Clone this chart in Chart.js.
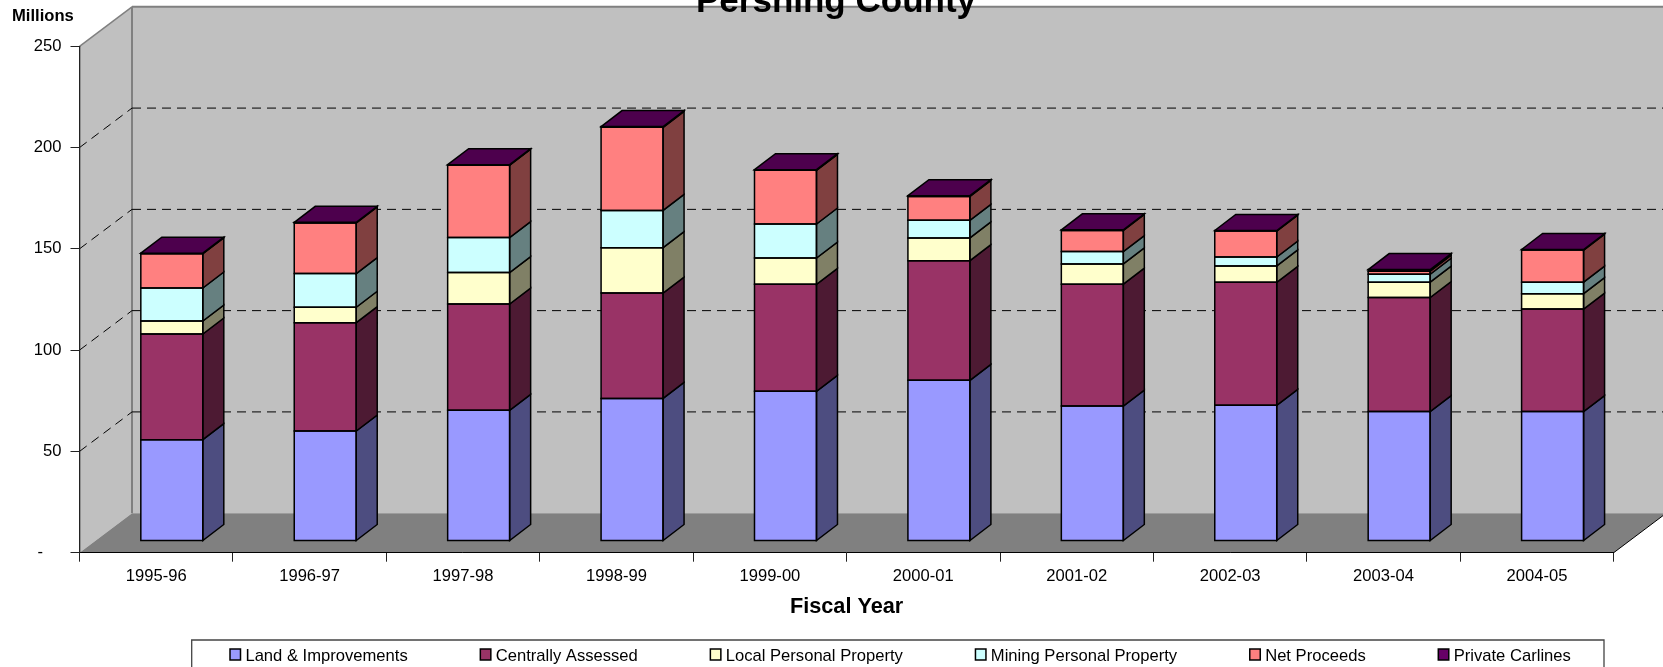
<!DOCTYPE html>
<html>
<head>
<meta charset="utf-8">
<title>Pershing County</title>
<script src="https://cdn.jsdelivr.net/npm/chart.js@4"></script>
<style>
  body { margin: 0; background: #fff; overflow: hidden; }
  canvas { display: block; }
</style>
</head>
<body>
<canvas id="chart" width="1663" height="667"></canvas>
<script>
const categories = ["1995-96", "1996-97", "1997-98", "1998-99", "1999-00", "2000-01", "2001-02", "2002-03", "2003-04", "2004-05"];

// values in millions
const land = [50.0, 54.3, 64.5, 70.4, 73.9, 79.3, 66.6, 67.0, 63.9, 63.9];
const centrallyAssessed = [52.2, 53.5, 52.5, 52.0, 52.8, 59.1, 60.2, 60.7, 56.3, 50.6];
const localPersonal = [6.4, 7.6, 15.5, 22.4, 13.0, 11.2, 10.0, 8.1, 7.6, 7.6];
const miningPersonal = [16.3, 16.6, 17.3, 18.4, 16.8, 8.7, 6.1, 4.4, 3.9, 5.7];
const netProceeds = [16.9, 25.0, 35.7, 41.0, 26.5, 11.8, 10.4, 12.8, 1.5, 15.8];
const privateCarlines = [0.3, 0.3, 0.3, 0.4, 0.3, 0.4, 0.3, 0.3, 0.8, 0.3];

const seriesNames = ["Land & Improvements", "Centrally Assessed", "Local Personal Property", "Mining Personal Property", "Net Proceeds", "Private Carlines"];
const seriesValues = [land, centrallyAssessed, localPersonal, miningPersonal, netProceeds, privateCarlines];
const frontColors = ["#9999ff", "#993366", "#ffffcc", "#ccffff", "#ff8080", "#660066"];
const sideColors = ["#4d4d80", "#4d1a33", "#808066", "#668080", "#804040", "#330033"];
const topColor = "#4d004d";

const FONT = "'Liberation Sans', Arial, sans-serif";
Chart.defaults.font.family = FONT;
Chart.defaults.color = "#000";

// 3d box geometry
const wallDx = 52.5, wallDy = 39.5;   // front plane to back wall
const barDx = 15.6, barDy = 11.7;     // front plane to bar front
const depthDx = 21, depthDy = 16;     // bar depth

function poly(ctx, pts, fill, stroke, width) {
  ctx.beginPath();
  pts.forEach((p, i) => (i ? ctx.lineTo(p[0], p[1]) : ctx.moveTo(p[0], p[1])));
  ctx.closePath();
  if (fill) { ctx.fillStyle = fill; ctx.fill(); }
  if (stroke) { ctx.strokeStyle = stroke; ctx.lineWidth = width; ctx.stroke(); }
}

function line(ctx, x1, y1, x2, y2, color, width, dash) {
  ctx.beginPath();
  ctx.setLineDash(dash || []);
  ctx.moveTo(x1, y1);
  ctx.lineTo(x2, y2);
  ctx.strokeStyle = color;
  ctx.lineWidth = width;
  ctx.stroke();
  ctx.setLineDash([]);
}

const box3d = {
  id: "box3d",
  // walls, floor and the dashed gridlines
  beforeDraw(chart) {
    const ctx = chart.ctx, a = chart.chartArea, y = chart.scales.y;
    const l = a.left, r = a.right, t = a.top, b = a.bottom;
    ctx.save();
    poly(ctx, [[l + wallDx, t - wallDy], [r + wallDx, t - wallDy], [r + wallDx, b - wallDy], [l + wallDx, b - wallDy]], "#c0c0c0");
    poly(ctx, [[l, t], [l + wallDx, t - wallDy], [l + wallDx, b - wallDy], [l, b]], "#c0c0c0");
    poly(ctx, [[l, b], [l + wallDx, b - wallDy], [r + wallDx, b - wallDy], [r, b]], "#808080");
    line(ctx, l + wallDx, t - wallDy, l + wallDx, b - wallDy, "#808080", 2);
    line(ctx, l + wallDx, t - wallDy, r + wallDx, t - wallDy, "#808080", 2);
    line(ctx, l, t, l + wallDx, t - wallDy, "#808080", 1.5);
    line(ctx, r, b, r + wallDx, b - wallDy, "#000", 1);
    y.ticks.forEach((tick) => {
      if (tick.value === 0 || tick.value === y.max) return;
      const py = y.getPixelForValue(tick.value);
      line(ctx, l, py, l + wallDx, py - wallDy, "#000", 1, [9, 6]);
      line(ctx, l + wallDx, py - wallDy, r + wallDx, py - wallDy, "#000", 1, [9, 6]);
    });
    ctx.restore();
  },
  // native bars are pushed back into the depth of the box
  beforeDatasetsDraw(chart) {
    chart.ctx.save();
    chart.ctx.translate(barDx, -barDy);
  },
  afterDatasetsDraw(chart) {
    const ctx = chart.ctx;
    ctx.restore();
    ctx.save();
    ctx.lineJoin = "miter";
    const last = chart.data.datasets.length - 1;
    chart.data.datasets.forEach((ds, d) => {
      chart.getDatasetMeta(d).data.forEach((bar) => {
        const x1 = bar.x - bar.width / 2 + barDx, x2 = x1 + bar.width;
        const top = bar.y - barDy, bottom = bar.base - barDy;
        poly(ctx, [[x2, top], [x2 + depthDx, top - depthDy], [x2 + depthDx, bottom - depthDy], [x2, bottom]], sideColors[d], "#000", 1.5);
        poly(ctx, [[x1, top], [x2, top], [x2, bottom], [x1, bottom]], null, "#000", 1.5);
        if (d === last) {
          poly(ctx, [[x1, top], [x1 + depthDx, top - depthDy], [x2 + depthDx, top - depthDy], [x2, top]], topColor, "#000", 1.5);
        }
      });
    });
    ctx.restore();
  },
  // chart title, unit label and the framed legend
  afterDraw(chart) {
    const ctx = chart.ctx;
    ctx.save();
    ctx.fillStyle = "#000";
    ctx.textBaseline = "alphabetic";
    ctx.textAlign = "center";
    ctx.font = "bold 35px " + FONT;
    ctx.fillText("Pershing County", 836, 12);
    ctx.textAlign = "left";
    ctx.font = "bold 16.6px " + FONT;
    ctx.fillText("Millions", 12, 21);

    poly(ctx, [[191.7, 640], [1604, 640], [1604, 675], [191.7, 675]], "#fff", "#444", 1.3);
    ctx.font = "16.6px " + FONT;
    let x = 230;
    chart.data.datasets.forEach((ds) => {
      poly(ctx, [[x, 649], [x + 10.5, 649], [x + 10.5, 660], [x, 660]], ds.backgroundColor, "#000", 1.5);
      ctx.fillStyle = "#000";
      ctx.fillText(ds.label, x + 15.4, 661);
      x += 15.4 + ctx.measureText(ds.label).width + 72.6;
    });
    ctx.restore();
  }
};

new Chart(document.getElementById("chart"), {
  type: "bar",
  data: {
    labels: categories,
    datasets: seriesNames.map((name, i) => ({
      label: name,
      data: seriesValues[i],
      backgroundColor: frontColors[i],
      borderWidth: 0,
      clip: false,
      barPercentage: 0.404,
      categoryPercentage: 1
    }))
  },
  options: {
    responsive: false,
    animation: false,
    layout: { padding: { top: 46.3, right: 49.3, left: 0, bottom: 0 } },
    plugins: { legend: { display: false }, tooltip: { enabled: false } },
    scales: {
      x: {
        stacked: true,
        afterFit: (s) => { s.height = 114.3; },
        grid: { drawOnChartArea: false, tickLength: 9, tickColor: "#222", offset: true },
        border: { color: "#000", width: 1 },
        ticks: { font: { size: 16.6 }, padding: 5, maxRotation: 0, autoSkip: false },
        title: { display: true, text: "Fiscal Year", font: { size: 21.7, weight: "bold" }, padding: { top: 0, bottom: 47 } }
      },
      y: {
        stacked: true,
        min: 0,
        max: 250,
        afterFit: (s) => { s.width = 79.5; },
        grid: { drawOnChartArea: false, tickLength: 9, tickColor: "#222" },
        border: { color: "#222", width: 1.3 },
        ticks: {
          stepSize: 50,
          padding: 9,
          font: { size: 16.6 },
          callback: (v) => (v === 0 ? "-    " : v)
        }
      }
    }
  },
  plugins: [box3d]
});
</script>
</body>
</html>
